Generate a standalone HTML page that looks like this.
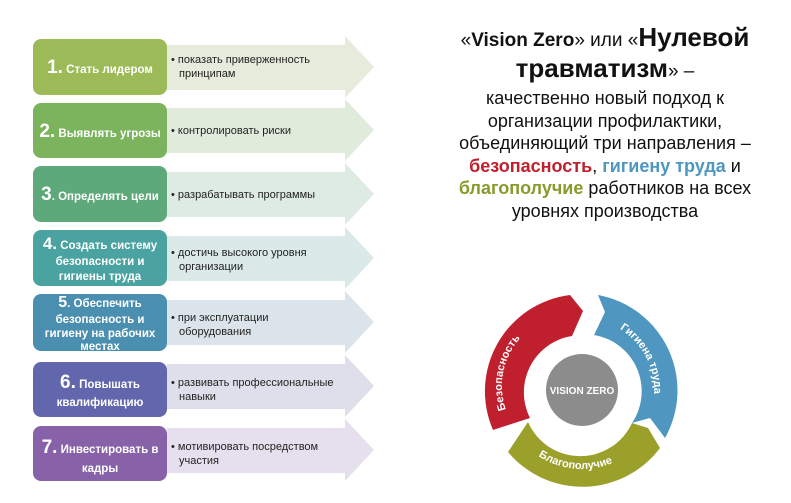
<!DOCTYPE html>
<html><head><meta charset="utf-8"><style>
body{margin:0;background:#fff;width:791px;height:503px;overflow:hidden;font-family:"Liberation Sans","DejaVu Sans",sans-serif}
.t{position:absolute;left:420px;width:370px;text-align:center;color:#111;font-size:18px;line-height:22.5px}
</style></head><body>
<svg width="791" height="503" style="position:absolute;left:0;top:0" font-family="Liberation Sans, DejaVu Sans, sans-serif">
<polygon points="167,45 345,45 345,36 374,67 345,98 345,90 167,90" fill="#e6ebdc"/>
<rect x="33" y="39" width="134" height="56" rx="8" fill="#9cbb58"/>
<polygon points="167,108 345,108 345,99 374,130 345,161 345,153 167,153" fill="#e1ebdb"/>
<rect x="33" y="103" width="134" height="55" rx="8" fill="#7bb45c"/>
<polygon points="167,172 345,172 345,163 374,194 345,225 345,217 167,217" fill="#ddebe2"/>
<rect x="33" y="166" width="134" height="56" rx="8" fill="#5ea97a"/>
<polygon points="167,236 345,236 345,227 374,258 345,289 345,281 167,281" fill="#dbe9e9"/>
<rect x="33" y="230" width="134" height="56" rx="8" fill="#4aa3a0"/>
<polygon points="167,300 345,300 345,291 374,322 345,353 345,345 167,345" fill="#dbe4ea"/>
<rect x="33" y="294" width="134" height="57" rx="8" fill="#4b8fb0"/>
<polygon points="167,364 345,364 345,355 374,386 345,417 345,409 167,409" fill="#dfdfec"/>
<rect x="33" y="362" width="134" height="55" rx="8" fill="#6266ac"/>
<polygon points="167,428 345,428 345,419 374,450 345,481 345,473 167,473" fill="#e6e0ee"/>
<rect x="33" y="426" width="134" height="55" rx="8" fill="#8762a8"/>
<g fill="#fff" font-weight="bold" font-size="11.5" text-anchor="middle">
<text x="100" y="73"><tspan font-size="19">1.</tspan> Стать лидером</text>
<text x="100" y="137"><tspan font-size="19">2.</tspan> Выявлять угрозы</text>
<text x="100" y="200"><tspan font-size="19">3</tspan>. Определять цели</text>
<text x="100" y="249"><tspan font-size="17">4.</tspan> Создать систему</text>
<text x="100" y="265">безопасности и</text>
<text x="100" y="280">гигиены труда</text>
<text x="100" y="307"><tspan font-size="16">5</tspan>. Обеспечить</text>
<text x="100" y="323">безопасность и</text>
<text x="100" y="337">гигиену на рабочих</text>
<text x="100" y="350">местах</text>
<text x="100" y="388"><tspan font-size="19">6.</tspan> Повышать</text>
<text x="100" y="406">квалификацию</text>
<text x="100" y="453"><tspan font-size="19">7.</tspan> Инвестировать в</text>
<text x="100" y="472">кадры</text>
</g>
<g fill="#222" font-size="11">
<text x="171" y="63">• показать приверженность</text>
<text x="179" y="77">принципам</text>
<text x="171" y="134">• контролировать риски</text>
<text x="171" y="198">• разрабатывать программы</text>
<text x="171" y="256">• достичь высокого уровня</text>
<text x="179" y="270">организации</text>
<text x="171" y="321">• при эксплуатации</text>
<text x="179" y="335">оборудования</text>
<text x="171" y="386">• развивать профессиональные</text>
<text x="179" y="400">навыки</text>
<text x="171" y="450">• мотивировать посредством</text>
<text x="179" y="464">участия</text>
</g>
<defs>
<path id="pr" d="M509,417 A72,72 0 0 1 562,315"/>
<path id="pb" d="M618,328 A72,72 0 0 1 650,415"/>
<path id="pg" d="M518,437 A80,80 0 0 0 646,437"/>
</defs>
<path d="M493,430 A97,97 0 0 1 570,295 L583,311 L572,336 A57,57 0 0 0 530,418 Z" fill="#c0202e"/>
<path d="M598,295 A97,97 0 0 1 665,438 L650,418 L632,423 A57,57 0 0 0 594,335 L605,312 Z" fill="#4f97c0"/>
<path d="M508,452 L528,422 A57,57 0 0 0 632,423 L648,428 L660,448 A97,97 0 0 1 508,452 Z" fill="#9aa02a"/>
<circle cx="582" cy="390" r="36" fill="#8c8c8c"/>
<text x="582" y="394" fill="#fff" font-size="10" font-weight="bold" text-anchor="middle">VISION ZERO</text>
<g fill="#fff" font-size="11" font-weight="bold">
<text><textPath href="#pr" startOffset="8">Безопасность</textPath></text>
<text><textPath href="#pb" startOffset="2">Гигиена труда</textPath></text>
<text><textPath href="#pg" startOffset="28">Благополучие</textPath></text>
</g>
</svg>
<div class="t" style="top:22px;font-size:19px;line-height:30px">«<b>Vision Zero</b>» или «<b style="font-size:26px">Нулевой</b></div>
<div class="t" style="top:53px;font-size:26px;line-height:30px"><b>травматизм</b><span style="font-size:19px">» –</span></div>
<div class="t" style="top:87px">качественно новый подход к<br>организации профилактики,<br>объединяющий три направления –<br><b style="color:#c0202e">безопасность</b>, <b style="color:#4f97c0">гигиену труда</b> и<br><b style="color:#8a9a2a">благополучие</b> работников на всех<br>уровнях производства</div>
</body></html>
